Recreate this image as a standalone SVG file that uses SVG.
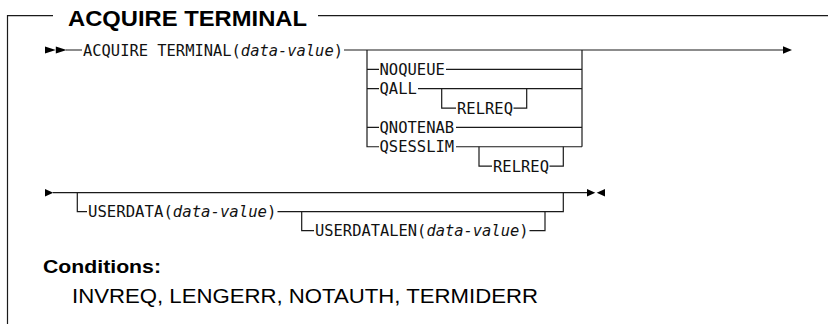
<svg xmlns="http://www.w3.org/2000/svg" width="828" height="324" viewBox="0 0 828 324">
<style>
  .ln { fill: none; stroke: #1a1a1a; stroke-width: 1.2; }
  .ah { fill: #000; stroke: none; }
  .mono { font-family: "DejaVu Sans Mono", "Liberation Mono", monospace; font-size: 15.5px; fill: #111; }
  .it { font-style: italic; }
  .title { font-family: "Liberation Sans", Arial, sans-serif; font-weight: bold; font-size: 22px; fill: #000; }
  .cond { font-family: "Liberation Sans", Arial, sans-serif; font-weight: bold; font-size: 18px; fill: #000; }
  .body { font-family: "Liberation Sans", Arial, sans-serif; font-size: 19.5px; fill: #000; }
</style>
<rect width="828" height="324" fill="#fff"/>

<g id="frame">
  <path class="ln" d="M7.5,324 V15.7 H53 M318,15.7 H828"/>
  <text class="title" x="68" y="26" textLength="239" lengthAdjust="spacingAndGlyphs">ACQUIRE TERMINAL</text>
</g>

<g id="connectors">
  <polygon class="ah" points="45,46.5 55.8,50 45,53.5"/>
  <polygon class="ah" points="55.8,46.5 66.7,50 55.8,53.5"/>
  <path class="ln" d="M66,50 H82 M344,50 H784"/>
  <polygon class="ah" points="783,46.3 792,50 783,53.7"/>
  <path class="ln" d="M367,50 V146.75 H379 M367,69.35 H379 M367,88.7 H379 M367,127.4 H379"/>
  <path class="ln" d="M582,50 V146.75"/>
  <path class="ln" d="M446,69.35 H582 M418,88.7 H582 M456,127.4 H582 M456,146.75 H582"/>
  <path class="ln" d="M441.7,88.7 V108.05 H456 M513.5,108.05 H526.7 V88.7"/>
  <path class="ln" d="M479,146.75 V166.1 H492 M549.5,166.1 H563.3 V146.75"/>
  <polygon class="ah" points="45,189 53.3,192.7 45,196.4"/>
  <path class="ln" d="M53,192.7 H588"/>
  <polygon class="ah" points="587,189 595.3,192.7 587,196.4"/>
  <polygon class="ah" points="605,189 596.7,192.7 605,196.4"/>
  <path class="ln" d="M77.3,192.7 V211.7 H87 M277.5,211.7 H563.3 V192.7"/>
  <path class="ln" d="M301.7,211.7 V230.7 H314 M529.5,230.7 H545 V211.7"/>
</g>

<g id="acquire-terminal">
  <text class="mono" x="83" y="55.5" textLength="260" lengthAdjust="spacingAndGlyphs">ACQUIRE TERMINAL(<tspan class="it">data-value</tspan>)</text>
</g>
<g id="noqueue"><text class="mono" x="379.5" y="74.85">NOQUEUE</text></g>
<g id="qall"><text class="mono" x="379.5" y="94.2">QALL</text></g>
<g id="relreq-1"><text class="mono" x="457" y="113.55">RELREQ</text></g>
<g id="qnotenab"><text class="mono" x="379.5" y="132.9">QNOTENAB</text></g>
<g id="qsesslim"><text class="mono" x="379.5" y="152.25">QSESSLIM</text></g>
<g id="relreq-2"><text class="mono" x="493" y="171.6">RELREQ</text></g>
<g id="userdata">
  <text class="mono" x="88" y="217.2" textLength="188.5" lengthAdjust="spacingAndGlyphs">USERDATA(<tspan class="it">data-value</tspan>)</text>
</g>
<g id="userdatalen">
  <text class="mono" x="315" y="236.2" textLength="213.5" lengthAdjust="spacingAndGlyphs">USERDATALEN(<tspan class="it">data-value</tspan>)</text>
</g>

<g id="conditions">
  <text class="cond" x="43" y="273.3" textLength="118" lengthAdjust="spacingAndGlyphs">Conditions:</text>
  <text class="body" x="72" y="303.3" textLength="466" lengthAdjust="spacingAndGlyphs">INVREQ, LENGERR, NOTAUTH, TERMIDERR</text>
</g>
</svg>
